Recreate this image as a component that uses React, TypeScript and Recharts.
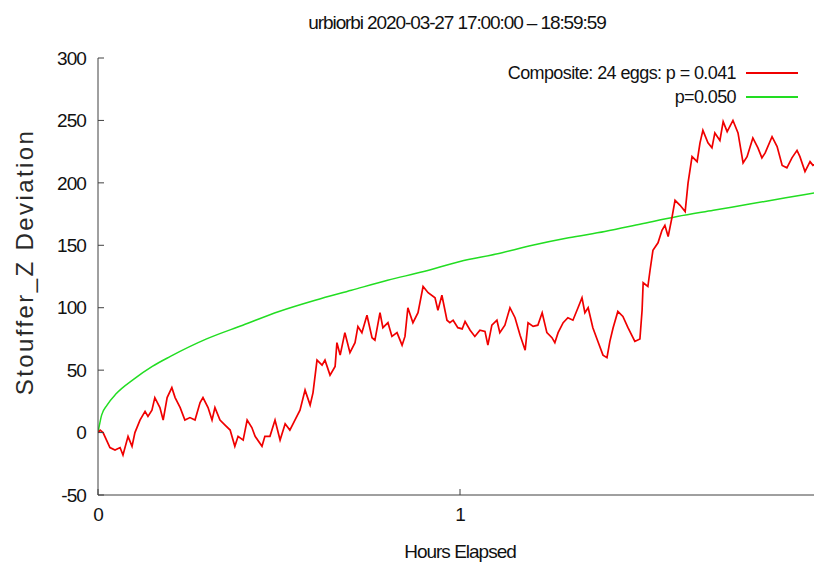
import React from "react";
import { LineChart, Line, XAxis, YAxis } from "recharts";

// hours elapsed / Stouffer Z cumulative deviation
const redHours = [
  0, 0.006, 0.014, 0.033, 0.047, 0.061, 0.069, 0.083, 0.094, 0.102, 0.116, 0.13, 0.138, 0.149,
  0.157, 0.171, 0.18, 0.191, 0.204, 0.213, 0.227, 0.24, 0.254, 0.268, 0.282, 0.29, 0.304, 0.315,
  0.323, 0.337, 0.351, 0.365, 0.378, 0.387, 0.401, 0.412, 0.425, 0.434, 0.453, 0.461, 0.475,
  0.489, 0.503, 0.517, 0.53, 0.544, 0.558, 0.572, 0.586, 0.594, 0.605, 0.619, 0.627, 0.641,
  0.655, 0.66, 0.669, 0.682, 0.696, 0.71, 0.718, 0.729, 0.743, 0.757, 0.765, 0.779, 0.787,
  0.801, 0.812, 0.826, 0.84, 0.848, 0.856, 0.87, 0.884, 0.898, 0.912, 0.931, 0.939, 0.95, 0.964,
  0.972, 0.981, 0.994, 1.006, 1.014, 1.028, 1.041, 1.055, 1.069, 1.077, 1.088, 1.102, 1.11,
  1.124, 1.138, 1.152, 1.166, 1.18, 1.188, 1.202, 1.215, 1.227, 1.24, 1.254, 1.262, 1.271,
  1.285, 1.298, 1.312, 1.326, 1.337, 1.345, 1.354, 1.367, 1.381, 1.395, 1.406, 1.414, 1.423,
  1.436, 1.45, 1.464, 1.483, 1.497, 1.503, 1.506, 1.519, 1.525, 1.533, 1.547, 1.558, 1.566,
  1.575, 1.586, 1.594, 1.608, 1.622, 1.63, 1.641, 1.655, 1.663, 1.671, 1.685, 1.696, 1.704,
  1.718, 1.727, 1.738, 1.754, 1.768, 1.782, 1.793, 1.809, 1.823, 1.834, 1.843, 1.862, 1.876,
  1.89, 1.903, 1.917, 1.931, 1.939, 1.953, 1.967, 1.975, 2.0,
];
const redValues = [
  0, 2, 0, -12, -14, -12, -18, -3, -11, 0, 10, 17, 13, 18,
  28, 20, 10, 28, 36, 28, 20, 10, 12, 10, 24, 28, 20, 10,
  20, 10, 6, 2, -11, -3, -6, 10, 4, -3, -11, -3, -3,
  10, -6, 7, 2, 10, 18, 34, 22, 32, 58, 54, 58, 46,
  53, 72, 62, 80, 64, 72, 85, 80, 94, 76, 74, 96, 84,
  88, 77, 80, 70, 77, 100, 88, 96, 117, 112, 108, 98, 110, 90,
  88, 90, 84, 83, 89, 82, 77, 82, 81, 70, 86, 90, 80,
  86, 100, 92, 78, 66, 88, 85, 86, 96, 80, 76, 72, 80,
  88, 92, 90, 100, 108, 96, 100, 84, 73, 62, 60, 73, 84,
  97, 93, 84, 73, 75, 98, 120, 117, 130, 146, 152, 162, 166,
  157, 173, 186, 182, 177, 200, 221, 217, 232, 242, 232, 228, 240,
  234, 249, 241, 250, 240, 216, 221, 236, 228, 220, 224, 237, 229,
  214, 212, 220, 226, 221, 209, 217, 214, 218,
];

// p = 0.05 envelope
const greenHours = [
  0, 0.01, 0.025, 0.05, 0.1, 0.15, 0.2, 0.3, 0.4, 0.5, 0.6, 0.7, 0.8, 0.9, 1.0, 1.1, 1.2, 1.3,
  1.4, 1.5, 1.6, 1.7, 1.8, 1.9, 2.0,
];
const greenValues = [
  0, 14, 22, 31, 43, 53, 61, 75, 86, 97, 106, 114, 122, 129, 137, 143, 150, 156, 161, 167,
  173, 178, 183, 188, 193,
];

const yTicks = [-50, 0, 50, 100, 150, 200, 250, 300];
const xTicks = [0, 1]; // the "2" tick sits just past the right edge of the picture

const redData = redHours.map((h, i) => ({ h, v: redValues[i] }));
const greenData = greenHours.map((h, i) => ({ h, v: greenValues[i] }));

const FONT = "'Liberation Sans', Arial, sans-serif";
const AXIS = "#404040";
const RED = "#f00000";
const GREEN = "#22dd22";

const tickStyle = { fontSize: 19, fill: "#111", fontFamily: FONT, letterSpacing: -0.9 };

const legendRows = [
  { label: "Composite: 24 eggs: p = 0.041", color: RED },
  { label: "p=0.050", color: GREEN },
];

export default function App() {
  return (
    <div
      style={{
        position: "absolute",
        left: 0,
        top: 0,
        width: 814,
        height: 562,
        overflow: "hidden",
        background: "#fff",
      }}
    >
      <LineChart
        width={840}
        height={562}
        margin={{ top: 58, right: 18, bottom: 0, left: 0 }}
      >
        <XAxis
          xAxisId="b"
          dataKey="h"
          type="number"
          domain={[0, 2]}
          ticks={xTicks}
          allowDataOverflow
          height={67}
          tickSize={-6}
          tickMargin={19}
          tick={tickStyle}
          stroke={AXIS}
          tickLine={{ stroke: AXIS }}
          label={{
            value: "Hours Elapsed",
            position: "insideBottom",
            offset: 4,
            style: { fontSize: 19, fill: "#111", fontFamily: FONT, letterSpacing: -1 },
          }}
        />
        <XAxis
          xAxisId="t"
          orientation="top"
          dataKey="h"
          type="number"
          domain={[0, 2]}
          ticks={[0, 1, 2]}
          height={0}
          tickSize={-6}
          tick={false}
          stroke={AXIS}
          tickLine={{ stroke: AXIS }}
        />
        <YAxis
          yAxisId="l"
          type="number"
          domain={[-50, 300]}
          ticks={yTicks}
          width={98}
          tickSize={-6}
          tickMargin={18}
          tick={tickStyle}
          stroke={AXIS}
          tickLine={{ stroke: AXIS }}
        />
        <YAxis
          yAxisId="r"
          orientation="right"
          type="number"
          domain={[-50, 300]}
          ticks={yTicks}
          width={0}
          tickSize={-6}
          tick={false}
          stroke={AXIS}
          tickLine={{ stroke: AXIS }}
        />
        <Line
          xAxisId="b"
          yAxisId="l"
          data={greenData}
          dataKey="v"
          type="monotone"
          stroke={GREEN}
          strokeWidth={1.5}
          dot={false}
          isAnimationActive={false}
        />
        <Line
          xAxisId="b"
          yAxisId="l"
          data={redData}
          dataKey="v"
          type="linear"
          stroke={RED}
          strokeWidth={1.7}
          dot={false}
          isAnimationActive={false}
        />
      </LineChart>

      <div
        style={{
          position: "absolute",
          top: 12,
          left: 0,
          width: 914,
          textAlign: "center",
          fontFamily: FONT,
          fontSize: 19,
          letterSpacing: -1.1,
          color: "#111",
        }}
      >
        urbiorbi 2020-03-27 17:00:00 – 18:59:59
      </div>
      <div
        style={{
          position: "absolute",
          left: 25,
          top: 262,
          transform: "translate(-50%, -50%) rotate(-90deg)",
          whiteSpace: "nowrap",
          fontFamily: FONT,
          fontSize: 24,
          letterSpacing: 2.4,
          color: "#2a2a2a",
        }}
      >
        Stouffer_Z Deviation
      </div>
      <div
        style={{
          position: "absolute",
          top: 61,
          left: 420,
          width: 378,
          fontFamily: FONT,
          fontSize: 18,
          letterSpacing: -0.6,
          color: "#111",
        }}
      >
        {legendRows.map((r) => (
          <div
            key={r.label}
            style={{ display: "flex", alignItems: "center", justifyContent: "flex-end", height: 24 }}
          >
            <span>{r.label}</span>
            <span
              style={{
                display: "inline-block",
                width: 52,
                height: 1.5,
                background: r.color,
                marginLeft: 10,
              }}
            />
          </div>
        ))}
      </div>
    </div>
  );
}
